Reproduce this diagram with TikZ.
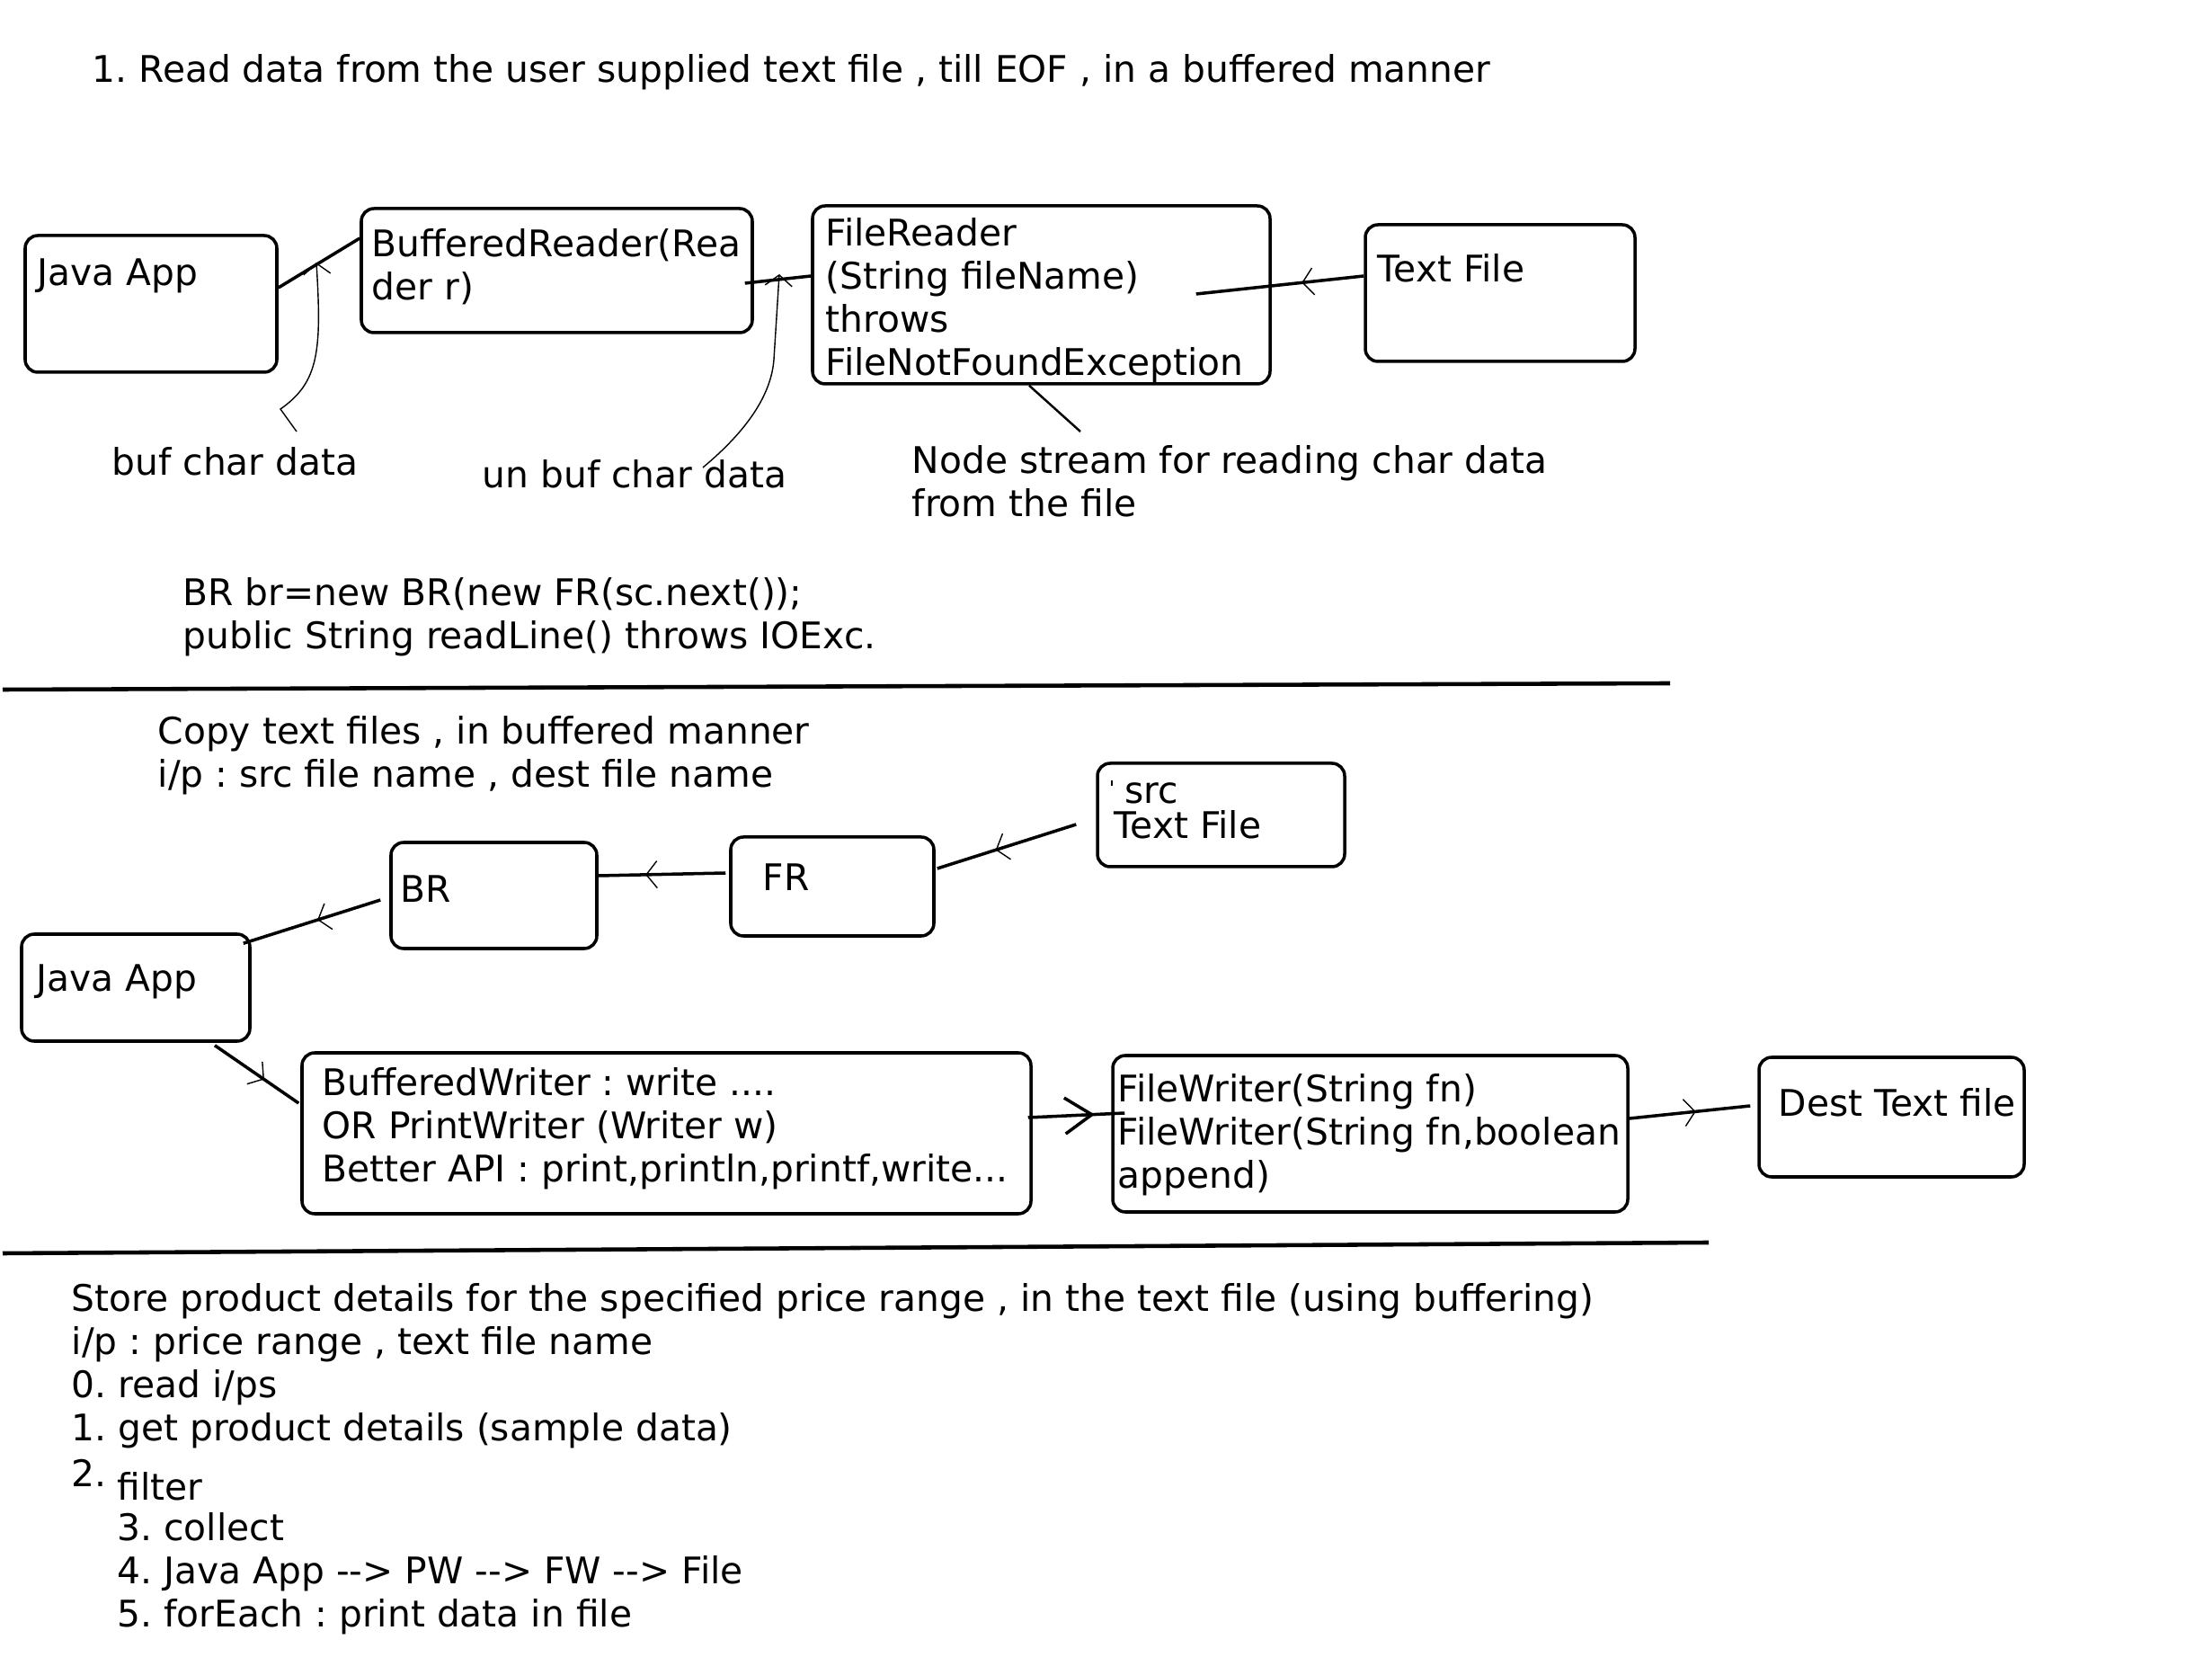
\documentclass[tikz,border=0pt]{standalone}
\usepackage{fontspec}
\setmainfont{DejaVu Sans}
\usepackage{tikz}
\usetikzlibrary{arrows.meta,decorations.markings}
\frenchspacing

\begin{document}
\begin{tikzpicture}[
 box/.style={draw, rounded corners=4pt, line width=1pt},
 txt/.style={anchor=west, inner sep=0pt, align=left},
 link/.style={line width=1pt},
 note/.style={line width=0.4pt},
 rule/.style={line width=1.3pt},
 tip/.style={-{Straight Barb[length=1.2mm,width=3mm,line width=0.4pt]}},
 flow/.style={postaction={decorate}, decoration={markings, mark=at position #1 with {\arrow{Straight Barb[length=1.2mm,width=3mm,line width=0.4pt]}}}},
 bigflow/.style={postaction={decorate}, decoration={markings, mark=at position #1 with {\arrow{Straight Barb[length=3mm,width=4mm,line width=1pt]}}}},
 font=\fontsize{11.6}{13.7}\selectfont
]
\useasboundingbox (0,0) rectangle (24.61,-18.63);

\node[txt] (title) at (1.02,-0.80) {1. Read data from the user supplied text file , till EOF , in a buffered manner};

\node[box, minimum width=2.80cm, minimum height=1.52cm] (app) at (1.68,-3.38) {};
\node[txt] (appt) at (0.41,-3.07) {Java App};
\node[box, minimum width=4.35cm, minimum height=1.38cm] (bread) at (6.195,-3.01) {};
\node[txt] (breadt) at (4.13,-2.97) {BufferedReader(Rea\\der r)};
\node[box, minimum width=5.09cm, minimum height=1.98cm] (fread) at (11.585,-3.28) {};
\node[txt] (freadt) at (9.18,-3.34) {FileReader\\(String fileName)\\throws\\FileNotFoundException};
\node[box, minimum width=3.00cm, minimum height=1.52cm] (tfile) at (16.69,-3.26) {};
\node[txt] (tfilet) at (15.32,-2.98) {Text File};

\node[txt] (bufc) at (1.24,-5.13) {buf char data};
\node[txt] (unbufc) at (5.36,-5.27) {un buf char data};
\node[txt] (nodestr) at (10.14,-5.35) {Node stream for reading char data\\from the file};
\node[txt] (code) at (2.03,-6.86) {BR br=new BR(new FR(sc.next());\\public String readLine() throws IOExc.};

\coordinate (bufTop) at (3.52,-2.92);
\coordinate (bufFoot) at (3.30,-4.80);
\coordinate (unbufTop) at (8.67,-3.05);
\coordinate (unbufFoot) at (7.82,-5.20);
\coordinate (nsTop) at (12.02,-4.80);

\draw[link] ([yshift=0.18cm]app.east) -- ([yshift=0.36cm]bread.west);
\draw[link] ([xshift=-0.10cm,yshift=-0.14cm]bread.east) -- ([yshift=0.21cm]fread.west);
\draw[link, flow=0.37] ([yshift=0.19cm]tfile.west) -- ([xshift=-0.84cm,yshift=0.01cm]fread.east);
\draw[line width=0.7pt] ([xshift=-0.135cm]fread.south) -- (nsTop);
\draw[note, tip] (bufFoot) -- (3.12,-4.55) .. controls (3.55,-4.25) and (3.58,-3.90) .. (bufTop);
\draw[note, tip] (unbufFoot) .. controls (8.30,-4.80) and (8.58,-4.40) .. (8.61,-4.00) -- (unbufTop);

\draw[rule] (0.03,-7.67) -- (18.58,-7.60);

\node[txt] (copyhead) at (1.75,-8.40) {Copy text files , in buffered manner\\i/p : src file name , dest file name};

\node[box, minimum width=2.75cm, minimum height=1.15cm] (src) at (13.585,-9.065) {};
\node[txt] (srct) at (12.51,-8.82) {src};
\node[txt] (srcft) at (12.39,-9.17) {Text File};
\draw[note] (12.37,-8.68) -- (12.37,-8.74);
\node[box, minimum width=2.26cm, minimum height=1.10cm] (fr) at (9.26,-9.86) {};
\node[txt] (frt) at (8.48,-9.76) {FR};
\node[box, minimum width=2.29cm, minimum height=1.18cm] (br) at (5.495,-9.96) {};
\node[txt] (brt) at (4.45,-9.89) {BR};
\node[box, minimum width=2.54cm, minimum height=1.19cm] (app2) at (1.51,-10.985) {};
\node[txt] (app2t) at (0.40,-10.92) {Java App};
\node[box, minimum width=8.11cm, minimum height=1.79cm] (bwrite) at (7.415,-12.605) {};
\node[txt] (bwritet) at (3.58,-12.55) {BufferedWriter : write ....\\OR PrintWriter (Writer w)\\Better API : print,println,printf,write...};
\node[box, minimum width=5.73cm, minimum height=1.74cm] (fwrite) at (15.245,-12.61) {};
\node[txt] (fwritet) at (12.43,-12.62) {FileWriter(String fn)\\FileWriter(String fn,boolean\\append)};
\node[box, minimum width=2.95cm, minimum height=1.33cm] (dest) at (21.045,-12.425) {};
\node[txt] (destt) at (19.78,-12.26) {Dest Text file};

\draw[link, flow=0.58] ([xshift=-0.22cm,yshift=-0.105cm]src.west) -- ([xshift=0.02cm,yshift=0.20cm]fr.east);
\draw[link, flow=0.63] ([xshift=-0.04cm,yshift=0.15cm]fr.west) -- ([yshift=0.22cm]br.east);
\draw[link, flow=0.46] ([xshift=-0.10cm,yshift=-0.05cm]br.west) -- ([xshift=-0.09cm,yshift=-0.12cm]app2.north east);
\draw[link, flow=0.59] ([xshift=0.88cm,yshift=-0.03cm]app2.south) -- ([xshift=-0.02cm,yshift=0.335cm]bwrite.west);
\draw[link, bigflow=0.69] ([xshift=-0.05cm,yshift=0.175cm]bwrite.east) -- ([xshift=0.15cm,yshift=0.23cm]fwrite.west);
\draw[link, flow=0.55] ([yshift=0.17cm]fwrite.east) -- ([xshift=-0.08cm,yshift=0.125cm]dest.west);

\draw[rule] (0.03,-13.94) -- (19.01,-13.82);

\node[txt] (store) at (0.79,-15.19) {Store product details for the specified price range , in the text file (using buffering)\\i/p : price range , text file name\\0. read i/ps\\1. get product details (sample data)};
\node[txt] (two) at (0.79,-16.38) {2.};
\node[txt] (filt) at (1.30,-16.53) {filter};
\node[txt] (rest) at (1.30,-17.50) {3. collect\\4. Java App -{}-> PW -{}-> FW -{}-> File\\5. forEach : print data in file};
\end{tikzpicture}
\end{document}
